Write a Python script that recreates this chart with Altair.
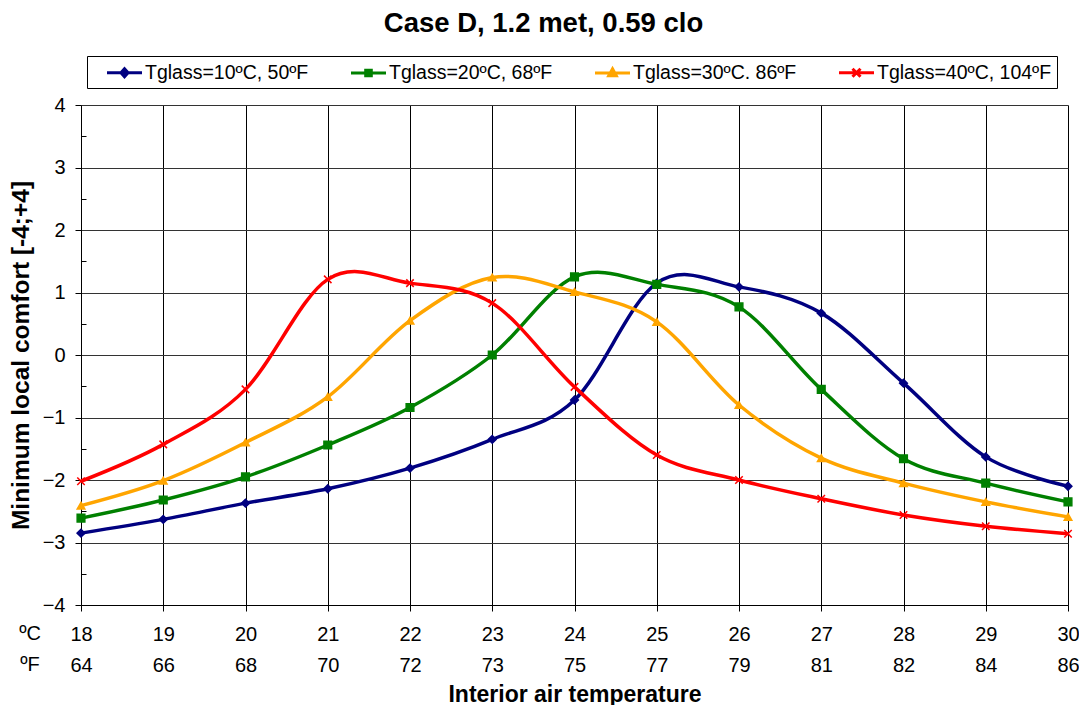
import json
import altair as alt
import pandas as pd

# ---- data ----
temps_c = [18, 19, 20, 21, 22, 23, 24, 25, 26, 27, 28, 29, 30]
temps_f = ["64", "66", "68", "70", "72", "73", "75", "77", "79", "81", "82", "84", "86"]
series = ["Tglass=10ºC, 50ºF", "Tglass=20ºC, 68ºF", "Tglass=30ºC. 86ºF", "Tglass=40ºC, 104ºF"]
colors = ["#000080", "#008000", "#FFA500", "#FF0000"]

blue = [-2.85, -2.63, -2.37, -2.14, -1.81, -1.35, -0.72, 1.15, 1.09, 0.67, -0.45, -1.63, -2.10]
green = [-2.61, -2.32, -1.95, -1.44, -0.84, 0.00, 1.25, 1.13, 0.77, -0.55, -1.66, -2.05, -2.35]
orange = [-2.41, -2.01, -1.40, -0.67, 0.55, 1.24, 1.01, 0.53, -0.80, -1.65, -2.05, -2.35, -2.59]
red = [-2.02, -1.43, -0.55, 1.21, 1.15, 0.83, -0.51, -1.60, -2.00, -2.30, -2.56, -2.74, -2.86]

y_ticks = [-4, -3, -2, -1, 0, 1, 2, 3, 4]
y_minor = [-3.5, -2.5, -1.5, -0.5, 0.5, 1.5, 2.5, 3.5]

rows = []
for name, vals in zip(series, [blue, green, orange, red]):
    for t, v in zip(temps_c, vals):
        rows.append({"t": t, "v": v, "s": name})
df = pd.DataFrame(rows)

FONT = "Liberation Sans"
W, H = 987, 500

marker_shapes = ["diamond", "square", "triangle-up", "M-1,-1L1,1M-1,1L1,-1"]
marker_sizes = [60, 56, 80, 90]
legend_paths = [
    "M-1.75,0H1.75M0,-0.4L0.36,0L0,0.4L-0.36,0Z",
    "M-1.75,0H1.75M-0.28,-0.28H0.28V0.28H-0.28Z",
    "M-1.75,0H1.75M0,-0.42L0.38,0.28H-0.38Z",
    "M-1.75,0H1.75M-0.4,-0.4L0.4,0.4M-0.4,0.4L0.4,-0.4",
]

color_scale = alt.Scale(domain=series, range=colors)

legend = alt.Legend(
    orient="none", legendX=6, legendY=-49, direction="horizontal", title=None,
    strokeColor="black", padding=5, symbolSize=400, symbolStrokeWidth=3,
    symbolOffset=21, labelOffset=9, labelFont=FONT, labelFontSize=19.5,
    labelColor="black", columnPadding=27, labelLimit=300,
)

f_expr = "[datum.label, " + json.dumps(temps_f) + "[indexof(" + json.dumps(temps_c) + ", datum.value)]]"

x_enc = alt.X(
    "t:Q",
    scale=alt.Scale(domain=[18, 30], nice=False, zero=False),
    axis=alt.Axis(
        values=temps_c, labelExpr=f_expr, grid=True, gridColor="black", gridWidth=1,
        domainColor="black", tickColor="black", tickSize=6, labelFont=FONT,
        labelFontSize=20, labelColor="black", labelLineHeight=31, labelPadding=13,
        labelFlush=False, labelOverlap=False, title="Interior air temperature",
        titleFont=FONT, titleFontSize=23, titleFontWeight="bold", titleColor="black",
        titlePadding=8,
    ),
)
y_scale = alt.Scale(domain=[-4, 4], nice=False, zero=False)
y_main = alt.Y(
    "v:Q", scale=y_scale,
    axis=alt.Axis(
        values=y_ticks, grid=True, gridColor="#333333", gridWidth=1, domainColor="black",
        tickColor="black", tickSize=6, labelFont=FONT, labelFontSize=20,
        labelColor="black", labelPadding=10, title="Minimum local comfort [-4;+4]",
        titleFont=FONT, titleFontSize=24.5, titleFontWeight="bold", titleColor="black",
        titlePadding=9,
    ),
)
y_plain = alt.Y("v:Q", scale=y_scale, axis=None)

lines = alt.Chart(df).mark_line(interpolate="cardinal", tension=0, strokeWidth=3.5).encode(
    x=x_enc, y=y_main, color=alt.Color("s:N", scale=color_scale, legend=None)
)

points = alt.Chart(df).mark_point(filled=True, opacity=1, strokeWidth=1.5).encode(
    x=x_enc,
    y=y_plain,
    color=alt.Color("s:N", scale=color_scale, legend=None),
    stroke=alt.Stroke("s:N", scale=color_scale, legend=None),
    shape=alt.Shape("s:N", scale=alt.Scale(domain=series, range=marker_shapes), legend=None),
    size=alt.Size("s:O", scale=alt.Scale(domain=series, range=marker_sizes), legend=None),
)

# legend-only layer (no rows drawn): line + marker symbols
leg = alt.Chart(df).transform_filter("false").mark_point(filled=True, opacity=1, strokeWidth=3).encode(
    x=x_enc,
    y=y_plain,
    color=alt.Color("s:N", scale=color_scale, legend=legend),
    stroke=alt.Stroke("s:N", scale=color_scale, legend=legend),
    shape=alt.Shape("s:N", scale=alt.Scale(domain=series, range=legend_paths), legend=legend),
)

minor = alt.Chart(df).mark_point(opacity=0).encode(
    x=x_enc,
    y=alt.Y("v:Q", scale=y_scale, axis=alt.Axis(
        orient="right", offset=-W, values=y_minor, labels=False, grid=False,
        domain=False, ticks=True, tickSize=5, tickColor="black", title=None)),
)

unit_labels = alt.Chart(pd.DataFrame({"k": [0]})).mark_text(
    font=FONT, fontSize=20, align="center", baseline="top", lineHeight=31, color="black"
).encode(x=alt.value(-51), y=alt.value(H + 6 + 13), text=alt.value(["ºC", "ºF"]))

chart = (
    alt.layer(lines, points, leg, minor, unit_labels)
    .resolve_axis(y="independent")
    .resolve_scale(color="independent", stroke="independent", shape="independent")
    .properties(
        width=W, height=H,
        title=alt.TitleParams(
            text="Case D, 1.2 met, 0.59 clo", font=FONT, fontSize=27.5, fontWeight="bold",
            color="black", anchor="middle", dx=-31, dy=-14,
        ),
        autosize=alt.AutoSizeParams(type="none"),
        padding={"left": 73, "top": 97, "right": 11, "bottom": 100},
    )
    .configure_view(stroke=None)
)

chart.save("out.html", embed_options={"renderer": "svg", "actions": False})
